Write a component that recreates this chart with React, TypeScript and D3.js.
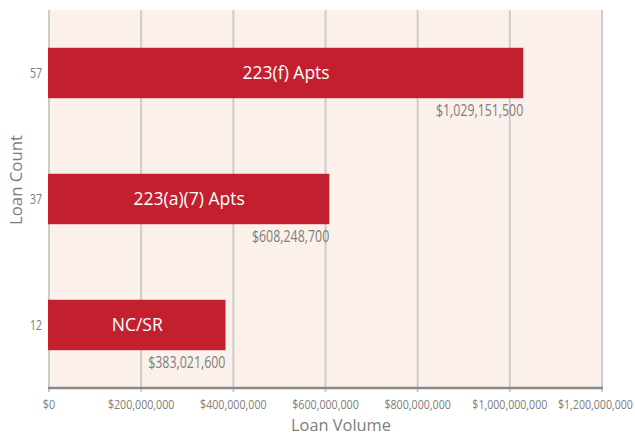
import React, { useLayoutEffect, useRef } from "react";
import * as d3 from "d3";

const categories = ["223(f) Apts", "223(a)(7) Apts", "NC/SR"];
const loanCounts = ["57", "37", "12"];
const loanVolumes = [1029151500, 608248700, 383021600];
const xTicks = [0, 200000000, 400000000, 600000000, 800000000, 1000000000, 1200000000];

const W = 635, H = 435;
const M = { left: 49, right: 33, top: 10, bottom: 47 };

const fmt = (v: number) => "$" + d3.format(",")(v);

// approximate condensed-font width: digit/$ width a, comma width b
const condW = (s: string, a: number, b: number) =>
  s.split("").reduce((acc, ch) => acc + (ch === "," ? b : a), 0);

export default function App() {
  const svgRef = useRef<SVGSVGElement>(null);
  const x = d3.scaleLinear().domain([0, 1200000000]).range([M.left, W - M.right]);
  const y = d3.scaleBand<number>().domain(d3.range(categories.length)).range([M.top, H - M.bottom]).paddingInner(0.6).paddingOuter(0.3);
  const font = "'Open Sans', sans-serif";
  const gray = "#7d7d7d";
  const bottom = H - M.bottom;

  // horizontally condense texts to a target width (emulates a condensed face)
  useLayoutEffect(() => {
    const svg = svgRef.current;
    if (!svg) return;
    svg.querySelectorAll<SVGTextElement>("text[data-tw]").forEach((el) => {
      const tw = +el.getAttribute("data-tw")!;
      const cx = +el.getAttribute("x")!;
      const nat = el.getComputedTextLength();
      if (nat > 0) {
        const s = tw / nat;
        el.setAttribute("transform", `translate(${cx},0) scale(${s},1) translate(${-cx},0)`);
      }
    });
  });

  const tickLabels = xTicks.map((t) => {
    const s = fmt(t);
    const w = condW(s, 6.2, 2.3);
    return { t, s, w, cx: x(t) };
  });
  for (let i = tickLabels.length - 1; i >= 0; i--) {
    const lb = tickLabels[i];
    const maxRight = i === tickLabels.length - 1 ? W - 2 : tickLabels[i + 1].cx - tickLabels[i + 1].w / 2 - 5;
    if (lb.cx + lb.w / 2 > maxRight) lb.cx = maxRight - lb.w / 2;
  }

  return (
    <svg ref={svgRef} width={W} height={H} style={{ position: "absolute", left: 0, top: 0 }}>
      <rect x={M.left} y={M.top} width={x(1200000000) - M.left} height={bottom - M.top} fill="#FBF1EA" />
      {xTicks.map((t, i) => (
        <line key={i} x1={x(t)} x2={x(t)} y1={M.top} y2={bottom + 4} stroke="#cccccc" strokeWidth={2} />
      ))}
      <line x1={M.left - 1} x2={x(1200000000) + 1} y1={bottom} y2={bottom} stroke="#888888" strokeWidth={2.5} />
      {categories.map((c, i) => {
        const y0 = y(i)!;
        const bw = y.bandwidth();
        const vs = fmt(loanVolumes[i]);
        const vw = condW(vs, 7.2, 2.7);
        return (
          <g key={c}>
            <rect x={x(0) - 1} y={y0} width={x(loanVolumes[i]) - x(0) + 1} height={bw} fill="#C3202F" />
            <text x={(x(0) + x(loanVolumes[i])) / 2} y={y0 + bw / 2} dy="0.36em" textAnchor="middle" fill="#ffffff" fontFamily={font} fontSize={17.5}>{c}</text>
            <text x={x(loanVolumes[i]) - vw / 2} y={y0 + bw + 18} data-tw={vw} textAnchor="middle" fill={gray} fontFamily={font} fontSize={15.5}>{vs}</text>
            <text x={36} y={y0 + bw / 2} dy="0.36em" data-tw={12} textAnchor="middle" fill={gray} fontFamily={font} fontSize={14}>{loanCounts[i]}</text>
          </g>
        );
      })}
      {tickLabels.map((lb, i) => (
        <text key={i} x={lb.cx} y={bottom + 21} data-tw={lb.w} textAnchor="middle" fill={gray} fontFamily={font} fontSize={13.5}>{lb.s}</text>
      ))}
      <text x={341} y={H - 4} data-tw={100} textAnchor="middle" fill={gray} fontFamily={font} fontSize={17}>Loan Volume</text>
      <g transform="translate(22, 180) rotate(-90)">
        <text x={0} y={0} data-tw={90} textAnchor="middle" fill={gray} fontFamily={font} fontSize={17}>Loan Count</text>
      </g>
    </svg>
  );
}
